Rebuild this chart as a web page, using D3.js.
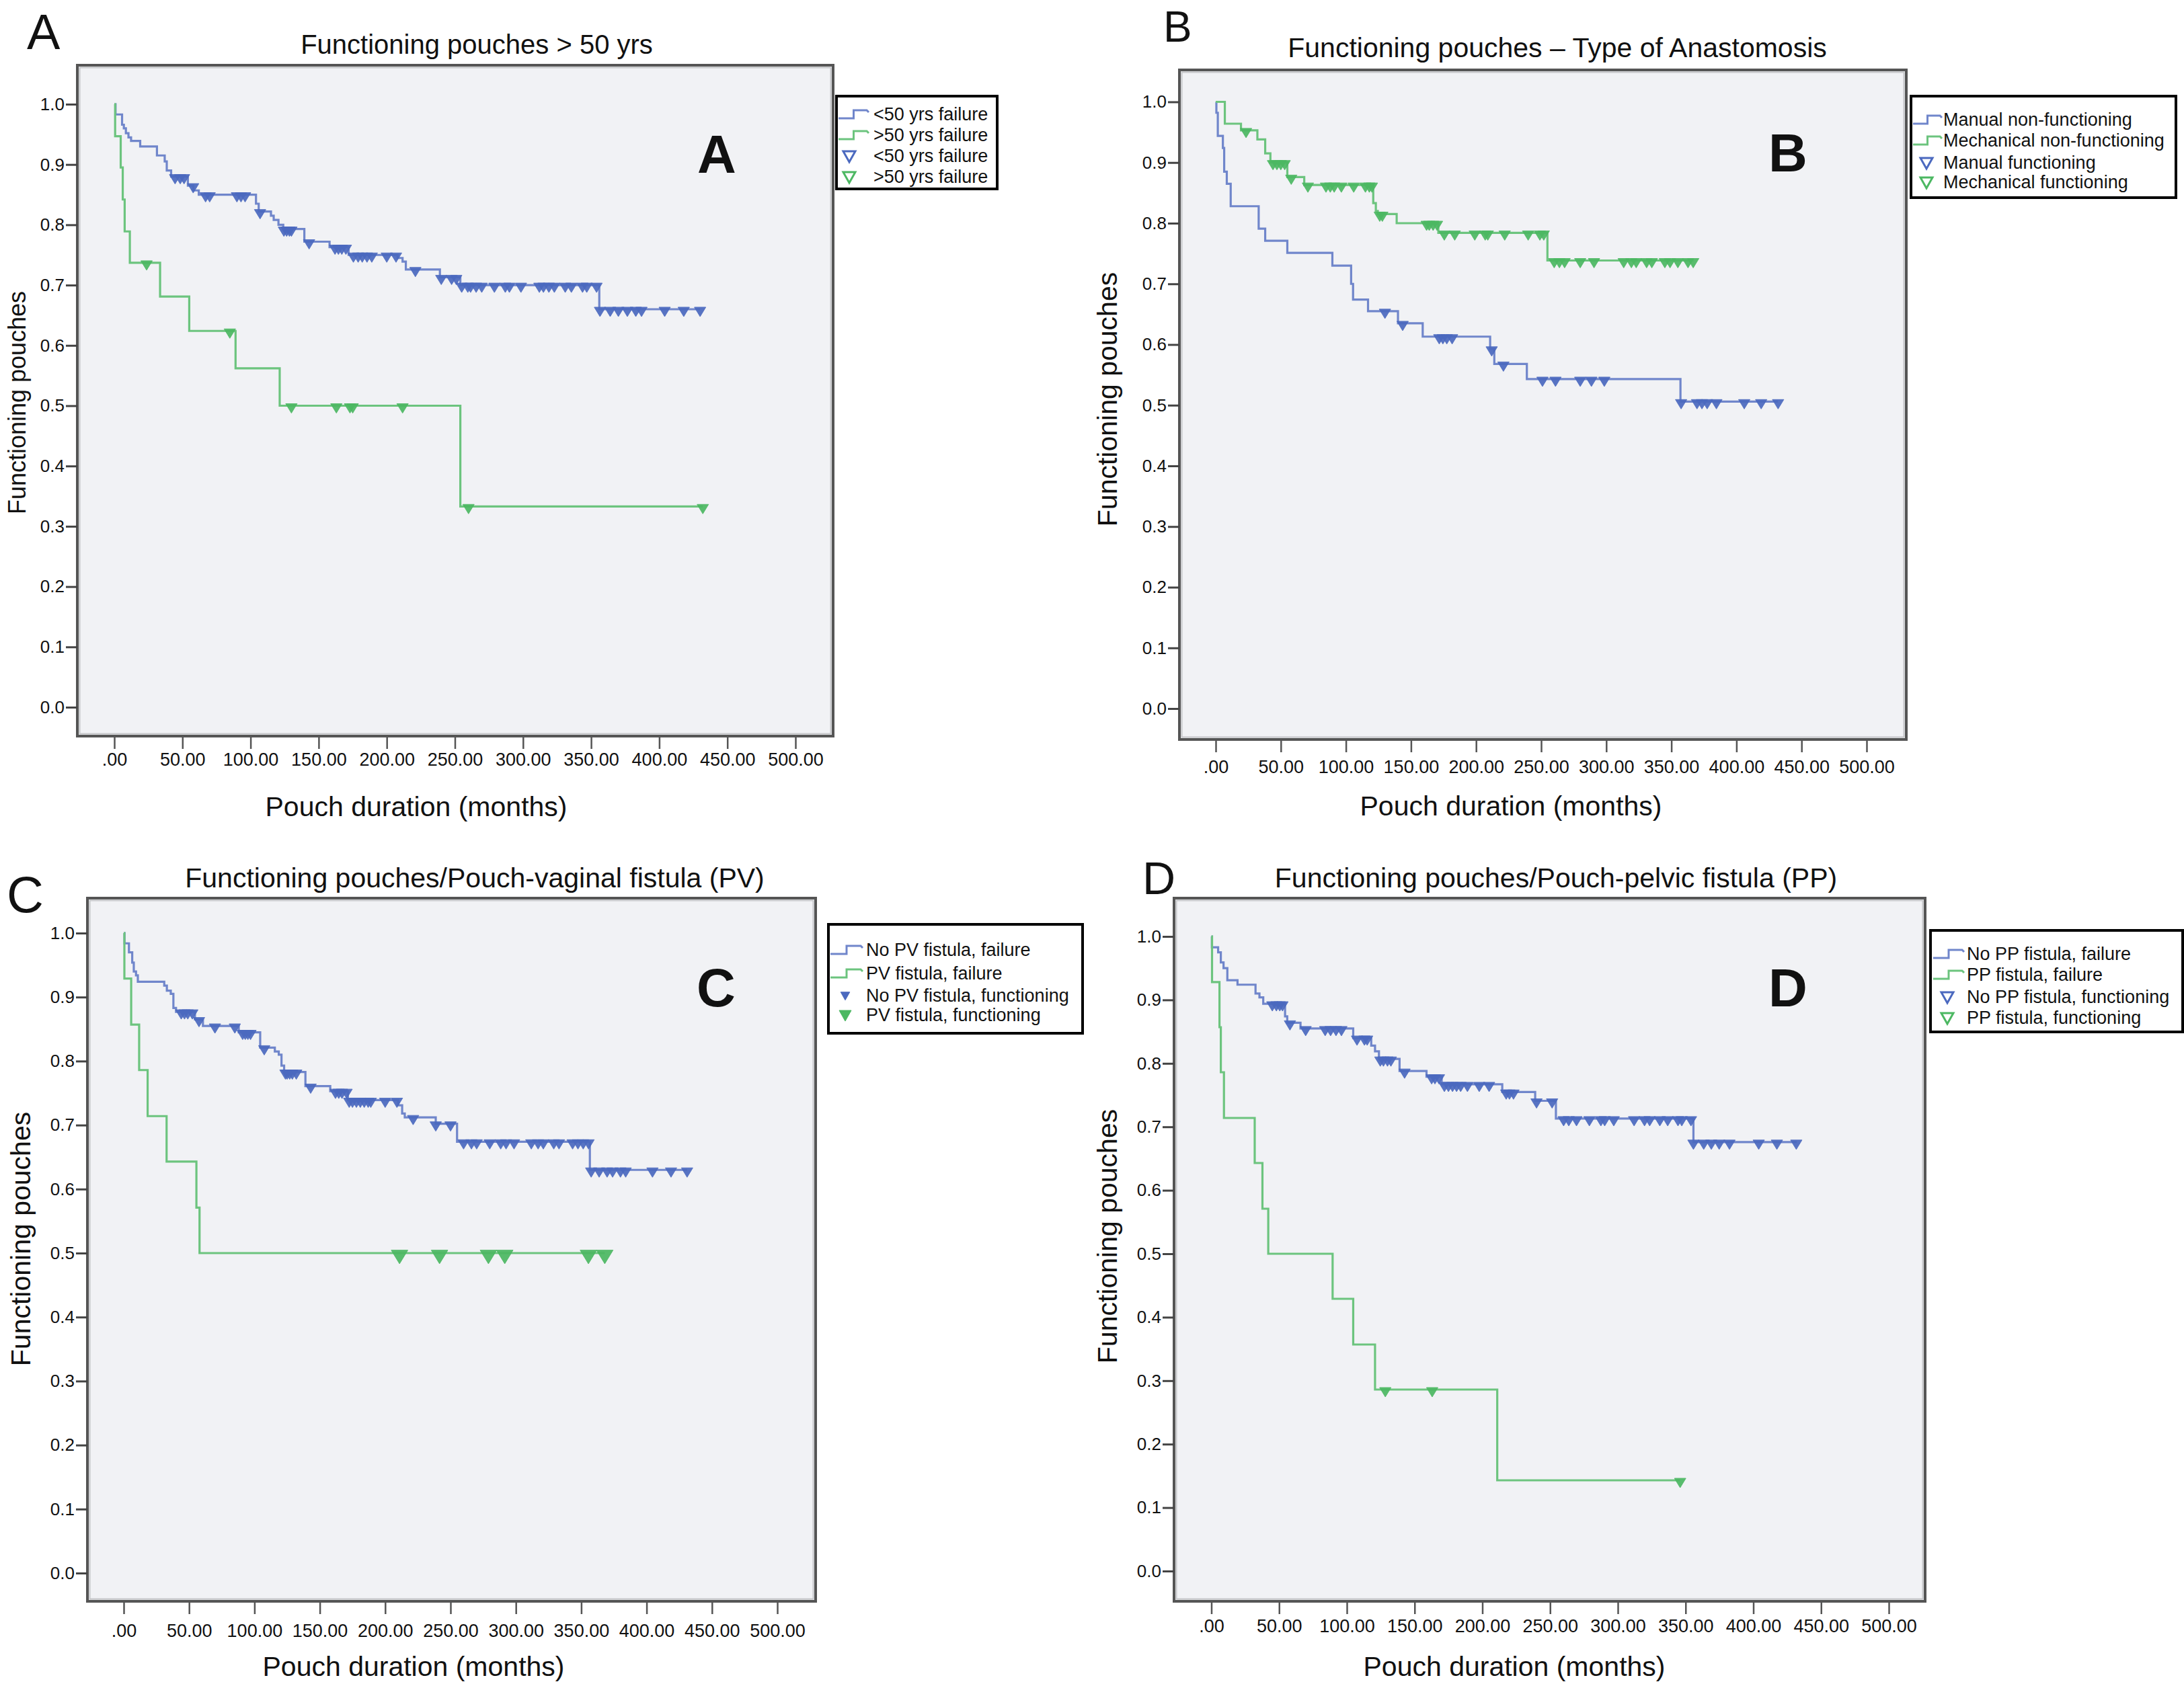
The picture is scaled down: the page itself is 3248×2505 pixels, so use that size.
<!DOCTYPE html>
<html><head><meta charset="utf-8">
<script src="https://cdn.jsdelivr.net/npm/d3@7"></script>
<style>
body{margin:0;background:#fff}
svg{display:block}
text{font-family:"Liberation Sans",Arial,Helvetica,sans-serif;fill:#111}
</style></head>
<body><svg id="chart" width="3248" height="2505"></svg>
<script>
// ---------------- DATA ----------------
const xTickValues = [0,50,100,150,200,250,300,350,400,450,500];
const xTickLabels = [".00","50.00","100.00","150.00","200.00","250.00","300.00","350.00","400.00","450.00","500.00"];
const yTickValues = [0,0.1,0.2,0.3,0.4,0.5,0.6,0.7,0.8,0.9,1.0];
const yTickLabels = ["0.0","0.1","0.2","0.3","0.4","0.5","0.6","0.7","0.8","0.9","1.0"];
const xAxisTitle = "Pouch duration (months)";
const yAxisTitle = "Functioning pouches";
const panelLetters = ["A","B","C","D"];

// Panel A
const titleA = "Functioning pouches > 50 yrs";
const legendA = ["<50 yrs failure", ">50 yrs failure", "<50 yrs failure", ">50 yrs failure"];
const aBlueSteps = [[0,1.0],[0.9,0.983],[5.7,0.966],[7,0.96],[8.5,0.952],[10.4,0.945],[12.3,0.939],[19,0.93],[31.3,0.915],[37,0.905],[38.5,0.89],[41.7,0.88],[54,0.865],[58,0.857],[62,0.85],[104,0.835],[106,0.822],[115,0.815],[117,0.808],[120.5,0.80],[124,0.793],[139.5,0.772],[158,0.763],[172,0.75],[208,0.745],[211.6,0.739],[214,0.726],[239,0.713],[254,0.70],[356,0.66]];
const aBlueEnd = 430;
const aBlueCensor = [44.6,48.4,51.2,57.9,67,70,90,93,96,107,124.5,126.5,128.5,130,143,162,164.5,167,170,175.5,179,182,185.5,189,200,206.8,221,240,247.6,251,255,259.5,261.5,265.6,269.7,279,287,290,298.5,312,315,319,323,331,335.5,343.7,346.8,354,356.5,364,370,376.6,382.8,387,404,418,430];
const aGreenSteps = [[0,1.0],[0.6,0.947],[4.7,0.895],[6.2,0.842],[7.6,0.789],[11.4,0.737],[33.6,0.681],[55,0.624],[89,0.562],[121.4,0.5],[254,0.333]];
const aGreenEnd = 432;
const aGreenCensor = [23.7,84.8,130,163,173,175,211.6,260,432];

// Panel B
const titleB = "Functioning pouches \u2013 Type of Anastomosis";
const legendB = ["Manual non-functioning","Mechanical non-functioning","Manual functioning","Mechanical functioning"];
const bBlueSteps = [[0,1.0],[0.5,0.982],[1.6,0.944],[5.5,0.924],[6.5,0.885],[8.5,0.865],[11.5,0.828],[33,0.791],[38,0.771],[55,0.751],[89.6,0.73],[104,0.70],[105.5,0.674],[117,0.655],[140,0.635],[159,0.613],[210.8,0.593],[214,0.568],[239,0.543],[357,0.506]];
const bBlueEnd = 432;
const bBlueCensor = [130,143.6,171.7,174.5,177.5,181.6,212,221,251,261,280,288.6,298.5,357.5,369.7,373.5,377.5,384.6,406,419,432];
const bGreenSteps = [[0,1.0],[7,0.964],[19.4,0.953],[32,0.938],[38,0.915],[42,0.90],[55,0.876],[68,0.863],[121,0.833],[123,0.82],[124.5,0.815],[139,0.80],[171,0.784],[254.8,0.7385]];
const bGreenEnd = 367;
const bGreenCensor = [23.3,44,47,50,53,58,70.8,84.7,88,91,96.5,106,115,118,120,126,128,162,164,167,170,175.6,183.6,199,207,209,222,240,249,252,260,264,268,280,290.6,313.4,319.3,323,331,335,345,349,355,362.8,366.8];

// Panel C
const titleC = "Functioning pouches/Pouch-vaginal fistula (PV)";
const legendC = ["No PV fistula, failure","PV fistula, failure","No PV fistula, functioning","PV fistula, functioning"];
const cBlueSteps = [[0,1.0],[0.6,0.984],[4,0.97],[6.5,0.954],[7.7,0.94],[9.4,0.934],[10.8,0.924],[31,0.918],[33,0.91],[36,0.905],[38,0.883],[40,0.877],[54.5,0.865],[60.6,0.855],[88,0.845],[104.4,0.821],[115.6,0.815],[118.6,0.81],[120.7,0.793],[122.7,0.783],[139,0.761],[158,0.753],[171.5,0.739],[210,0.731],[213,0.718],[215,0.712],[238.7,0.702],[255,0.674],[356.6,0.63]];
const cBlueEnd = 431;
const cBlueCensor = [44,46.5,49,52.5,57.6,69.8,85,91,93,95,97,107.5,123.7,125,127,129,132,143,162,164.5,167,170.5,172.5,175,178,181,184,187,189,200,209,221.4,238.7,250,260,266,270,280,288.4,292.5,298.6,311.8,317,321,329,333,343.4,347.5,351.5,355.6,357.6,363.7,369.8,374,380,384,404.5,418.7,431];
const cGreenSteps = [[0,1.0],[0.5,0.929],[5.7,0.857],[11.8,0.786],[18.3,0.714],[32.8,0.643],[55.6,0.571],[58,0.5]];
const cGreenEnd = 368;
const cGreenCensor = [211,241.6,279,291.5,355.5,368];

// Panel D
const titleD = "Functioning pouches/Pouch-pelvic fistula (PP)";
const legendD = ["No PP fistula, failure","PP fistula, failure","No PP fistula, functioning","PP fistula, functioning"];
const dBlueSteps = [[0,1.0],[0.4,0.983],[5,0.975],[7,0.959],[9,0.95],[11.8,0.931],[19.3,0.924],[32.6,0.91],[35.5,0.904],[38.3,0.894],[54.4,0.874],[56,0.864],[65.8,0.855],[104.7,0.84],[118,0.828],[120.8,0.819],[123.7,0.807],[138.9,0.788],[158.8,0.779],[170,0.767],[214.7,0.755],[239,0.741],[254.3,0.713],[355.8,0.676]];
const dBlueEnd = 432;
const dBlueCensor = [45,48,50.5,52.5,58,69.6,84,88,92,96,107.5,113,115,124.7,127,130,132.5,142.6,162.6,165,168,172,175,178,181,184,189,197.7,205,217.6,220,223,240,251.5,260,263.8,269.5,279,287.5,290.3,297,312,319.7,323.5,331,336.8,344.4,347.2,354,355.8,363.4,369,374.8,382.4,404,417.4,431.7];
const dGreenSteps = [[0,1.0],[0.5,0.928],[6,0.857],[7,0.786],[9.3,0.714],[32,0.643],[37.7,0.571],[42,0.5],[89.5,0.429],[104.7,0.357],[120.8,0.286],[211,0.143]];
const dGreenEnd = 346;
const dGreenCensor = [128.4,163,346];

// ---------------- STYLE / LAYOUT ----------------
const BLUE_LINE = "#7086cb", BLUE_MARK = "#4b69bf";
const GREEN_LINE = "#6cc47e", GREEN_MARK = "#4cb862";
const PLOT_BG = "#f1f2f5";

const layouts = [
 {letter:0, title:titleA, legend:legendA, blue:[aBlueSteps,aBlueEnd,aBlueCensor], green:[aGreenSteps,aGreenEnd,aGreenCensor],
  frame:[115,97,1239,1095], xr:[170,1183], yr:[1052,155], greenMarkScale:1,
  titleXY:[709,80], titleSize:40, letterXY:[40,73], letterSize:74, letterFont:"'Liberation Sans Narrow','Liberation Sans',Arial",
  bigXY:[1066,257], xLabY:1130, xTitleXY:[619,1200], yTitleXY:[25,599], yTitleSize:36,
  legBox:[1244,143,1483,281], legRows:[170,201,232,263], legTextX:1299, legIconX:[1247,1292], legTriX:1263, legFilled:false},
 {letter:1, title:titleB, legend:legendB, blue:[bBlueSteps,bBlueEnd,bBlueCensor], green:[bGreenSteps,bGreenEnd,bGreenCensor],
  frame:[1754,104,2835,1100], xr:[1808,2776], yr:[1054,151.5], greenMarkScale:1,
  titleXY:[2316,85], titleSize:41, letterXY:[1730,62], letterSize:64, letterFont:"'Liberation Sans',Arial",
  bigXY:[2659,255], xLabY:1141, xTitleXY:[2247,1199], yTitleXY:[1647,594], yTitleSize:41,
  legBox:[2842,143,3236,294], legRows:[178,209,242,271], legTextX:2890, legIconX:[2845,2888], legTriX:2865, legFilled:false},
 {letter:2, title:titleC, legend:legendC, blue:[cBlueSteps,cBlueEnd,cBlueCensor], green:[cGreenSteps,cGreenEnd,cGreenCensor],
  frame:[130,1336,1213,2382], xr:[184,1156], yr:[2340,1388], greenMarkScale:1.45,
  titleXY:[706,1320], titleSize:41, letterXY:[10,1357], letterSize:76, letterFont:"'Liberation Sans',Arial",
  bigXY:[1065,1497], xLabY:2426, xTitleXY:[615,2479], yTitleXY:[31,1843], yTitleSize:41,
  legBox:[1232,1375,1610,1537], legRows:[1413,1448,1481,1510], legTextX:1288, legIconX:[1235,1283], legTriX:1257, legFilled:true},
 {letter:3, title:titleD, legend:legendD, blue:[dBlueSteps,dBlueEnd,dBlueCensor], green:[dGreenSteps,dGreenEnd,dGreenCensor],
  frame:[1746,1336,2863,2382], xr:[1801.5,2809], yr:[2337,1393], greenMarkScale:1,
  titleXY:[2314,1320], titleSize:41, letterXY:[1699,1330], letterSize:68, letterFont:"'Liberation Sans',Arial",
  bigXY:[2659,1497], xLabY:2419, xTitleXY:[2252,2479], yTitleXY:[1647,1839], yTitleSize:41,
  legBox:[2871,1384,3246,1535], legRows:[1419,1450,1483,1514], legTextX:2925, legIconX:[2875,2921], legTriX:2896, legFilled:false}
];

const svg = d3.select("#chart");

function survAt(steps, t){ let v = steps[0][1]; for (const [tt,s] of steps){ if (tt <= t) v = s; } return v; }

function drawPanel(L){
  const g = svg.append("g");
  const [fx0,fy0,fx1,fy1] = L.frame;
  const x = d3.scaleLinear().domain([0,500]).range(L.xr);
  const y = d3.scaleLinear().domain([0,1]).range(L.yr);

  // frame
  g.append("rect").attr("x",fx0).attr("y",fy0).attr("width",fx1-fx0).attr("height",fy1-fy0)
    .attr("fill",PLOT_BG).attr("stroke","#555").attr("stroke-width",4);
  g.append("rect").attr("x",fx0+3.5).attr("y",fy0+3.5).attr("width",fx1-fx0-7).attr("height",fy1-fy0-7)
    .attr("fill","none").attr("stroke","#c4c5c8").attr("stroke-width",2);

  // y axis
  const ya = g.append("g").attr("transform",`translate(${fx0},0)`)
    .call(d3.axisLeft(y).tickValues(yTickValues).tickFormat((d,i)=>yTickLabels[i]).tickSizeInner(17).tickSizeOuter(0).tickPadding(2));
  ya.select(".domain").remove();
  ya.selectAll(".tick line").attr("stroke","#444").attr("stroke-width",3);
  ya.selectAll(".tick text").attr("font-size",26).attr("fill","#111").style("font-family","'Liberation Sans',Arial");

  // x axis
  const xa = g.append("g").attr("transform",`translate(0,${fy1+2})`)
    .call(d3.axisBottom(x).tickValues(xTickValues).tickFormat((d,i)=>xTickLabels[i]).tickSizeInner(17).tickSizeOuter(0).tickPadding(4));
  xa.select(".domain").remove();
  xa.selectAll(".tick line").attr("stroke","#555").attr("stroke-width",2.5);
  xa.selectAll(".tick text").attr("font-size",27).attr("fill","#111").attr("dy",null)
    .attr("y", L.xLabY - fy1 - 2).attr("dominant-baseline","central").style("font-family","'Liberation Sans',Arial");

  // titles
  g.append("text").attr("x",L.titleXY[0]).attr("y",L.titleXY[1]).attr("text-anchor","middle")
    .attr("font-size",L.titleSize).text(L.title);
  g.append("text").attr("x",L.letterXY[0]).attr("y",L.letterXY[1]).attr("font-size",L.letterSize)
    .style("font-family",L.letterFont).text(panelLetters[L.letter]);
  g.append("text").attr("x",L.bigXY[0]).attr("y",L.bigXY[1]).attr("text-anchor","middle")
    .attr("font-size",80).attr("font-weight","bold").text(panelLetters[L.letter]);
  g.append("text").attr("x",L.xTitleXY[0]).attr("y",L.xTitleXY[1]).attr("text-anchor","middle")
    .attr("dominant-baseline","central").attr("font-size",41).text(xAxisTitle);
  g.append("text").attr("transform",`translate(${L.yTitleXY[0]},${L.yTitleXY[1]}) rotate(-90)`)
    .attr("text-anchor","middle").attr("dominant-baseline","central").attr("font-size",L.yTitleSize).text(yAxisTitle);

  // curves
  const line = d3.line().x(d=>x(d[0])).y(d=>y(d[1])).curve(d3.curveStepAfter);
  const triPath = s => `M${-8.5*s},${-3*s} L${8.5*s},${-3*s} L0,${11*s} Z`;
  [[L.blue,BLUE_LINE,BLUE_MARK,1],[L.green,GREEN_LINE,GREEN_MARK,L.greenMarkScale]].forEach(([ser,lc,mc,ms])=>{
    const [steps,end,cens] = ser;
    const pts = steps.concat([[end, steps[steps.length-1][1]]]);
    g.append("path").attr("d",line(pts)).attr("fill","none").attr("stroke",lc).attr("stroke-width",3.2);
    g.selectAll(null).data(cens).enter().append("path")
      .attr("d",triPath(ms)).attr("transform",t=>`translate(${x(t)},${y(survAt(steps,t))})`)
      .attr("fill",mc).attr("stroke",mc).attr("stroke-width",1).attr("opacity",0.92);
  });

  // legend
  const [lx0,ly0,lx1,ly1] = L.legBox;
  g.append("rect").attr("x",lx0).attr("y",ly0).attr("width",lx1-lx0).attr("height",ly1-ly0)
    .attr("fill","#fff").attr("stroke","#000").attr("stroke-width",4);
  const cols = [BLUE_LINE, GREEN_LINE, BLUE_MARK, GREEN_MARK];
  L.legend.forEach((lab,i)=>{
    const cy = L.legRows[i];
    if (i < 2){
      const [a,b] = L.legIconX; const m = (a+b)/2;
      g.append("path").attr("d",`M${a},${cy+6} L${m},${cy+6} L${m},${cy-6} L${b-3},${cy-6} L${b},${cy-3}`)
        .attr("fill","none").attr("stroke",cols[i]).attr("stroke-width",3);
    } else {
      const s = (L.legFilled && i===2) ? 0.75 : 1;
      g.append("path").attr("d",`M${-9*s},${-7*s} L${9*s},${-7*s} L0,${9*s} Z`)
        .attr("transform",`translate(${L.legTriX},${cy})`)
        .attr("fill", L.legFilled ? cols[i] : "none").attr("stroke",cols[i]).attr("stroke-width",L.legFilled?1:3);
    }
    g.append("text").attr("x",L.legTextX).attr("y",cy).attr("dominant-baseline","central")
      .attr("font-size",27).text(lab);
  });
}

layouts.forEach(drawPanel);
</script>
</body></html>
